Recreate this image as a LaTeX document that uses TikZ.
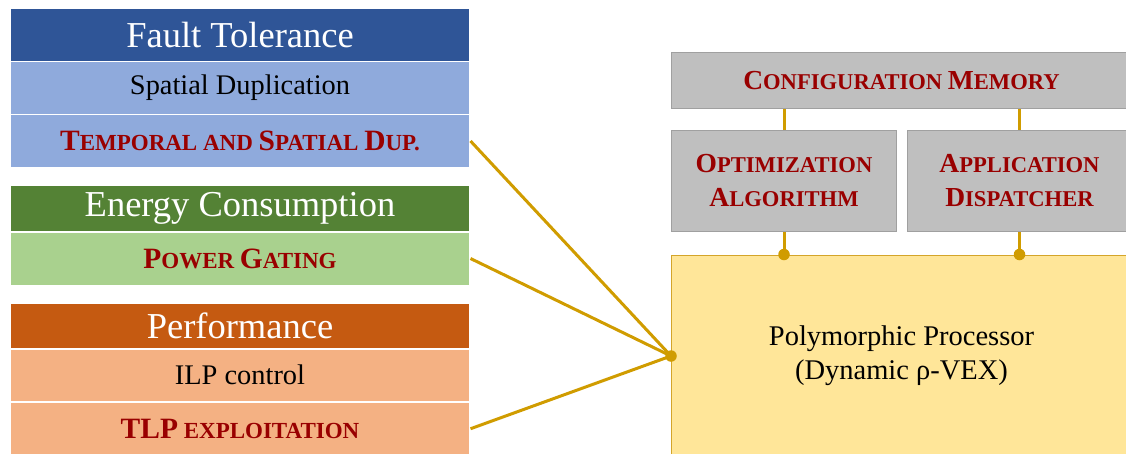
\documentclass[tikz,border=0pt]{standalone}
\usepackage{fontspec}
\setmainfont{Liberation Serif}
\definecolor{ftdark}{HTML}{2F5597}
\definecolor{ftlight}{HTML}{8FAADC}
\definecolor{ecdark}{HTML}{548235}
\definecolor{eclight}{HTML}{A9D18E}
\definecolor{pfdark}{HTML}{C55A11}
\definecolor{pflight}{HTML}{F4B183}
\definecolor{boxgray}{HTML}{BFBFBF}
\definecolor{boxedge}{HTML}{A0A0A0}
\definecolor{procfill}{HTML}{FFE699}
\definecolor{procedge}{HTML}{D4A52A}
\definecolor{wire}{HTML}{D09C00}
\definecolor{hl}{HTML}{990000}
% faked small caps: large initial capitals
\newcommand{\Cl}[1]{{\fontsize{29.5}{31}\selectfont #1}}
\newcommand{\Cr}[1]{{\fontsize{27.5}{30}\selectfont #1}}
\tikzset{
  panel/.style={anchor=north west, inner sep=0pt, draw=white, line width=1.5pt,
    minimum width=459.5pt, text centered},
  head/.style={panel, text=white, font=\fontsize{36.5}{40}\selectfont},
  item/.style={panel, text=black, font=\fontsize{28.4}{30}\selectfont},
  hot/.style={panel, text=hl, font=\bfseries\fontsize{23}{25}\selectfont},
  unit/.style={anchor=north west, inner sep=0pt, fill=boxgray, draw=boxedge, line width=1pt,
    text=hl, align=center, font=\bfseries\fontsize{22.6}{34}\selectfont},
  wire/.style={draw=wire, line width=3pt},
  joint/.style={circle, fill=wire, inner sep=0pt, minimum size=11.5pt},
}
\begin{document}
\begin{tikzpicture}[x=1pt, y=-1pt]
\useasboundingbox (0,0) rectangle (1126,453);
\clip (0,0) rectangle (1126,453);

% ---- fault tolerance group ----
\node[head, fill=ftdark, minimum height=53pt] (fth) at (9.5,7.5) {Fault Tolerance};
\node[item, fill=ftlight, minimum height=53pt] (sd) at (9.5,60.5) {Spatial Duplication};
\node[hot, fill=ftlight, minimum height=53.5pt] (tsd) at (9.5,113.5)
  {\Cl{T}EMPORAL AND \Cl{S}PATIAL \Cl{D}UP.};

% ---- energy group ----
\node[head, fill=ecdark, minimum height=46.5pt] (ech) at (9.5,184.5) {Energy Consumption};
\node[hot, fill=eclight, minimum height=53.5pt] (pg) at (9.5,231) {\Cl{P}OWER \Cl{G}ATING};

% ---- performance group ----
\node[head, fill=pfdark, minimum height=46pt] (pfh) at (9.5,302) {Performance};
\node[item, fill=pflight, minimum height=53pt] (ilp) at (9.5,348) {ILP control};
\node[hot, fill=pflight, minimum height=54pt] (tlp) at (9.5,401) {\Cl{TLP} EXPLOITATION};

% ---- processor side ----
\node[unit, minimum width=460pt, minimum height=56pt] (mem) at (671,52)
  {\Cr{C}ONFIGURATION \Cr{M}EMORY};
\node[unit, minimum width=225pt, minimum height=101.5pt] (opt) at (671,129.5)
  {\Cr{O}PTIMIZATION\\\Cr{A}LGORITHM};
\node[unit, minimum width=224pt, minimum height=101.5pt] (app) at (907,129.5)
  {\Cr{A}PPLICATION\\\Cr{D}ISPATCHER};
\node[anchor=north west, inner sep=0pt, fill=procfill, draw=procedge, line width=1pt,
  minimum width=460pt, minimum height=202pt, align=center,
  font=\fontsize{28.5}{33.7}\selectfont] (proc) at (671,254.5)
  {Polymorphic Processor\\(Dynamic ρ-VEX)};

% ---- connectors ----
\draw[wire] (mem.south -| opt.north) -- (opt.north);
\draw[wire] (mem.south -| app.north) -- (app.north);
\draw[wire] (opt.south) -- (opt.south |- proc.north) node[joint] {};
\draw[wire] (app.south) -- (app.south |- proc.north) node[joint] {};
\draw[wire] (tsd.east) -- (proc.west);
\draw[wire] (pg.east) -- (proc.west);
\draw[wire] (tlp.east) -- (proc.west);
\node[joint] (hub) at (proc.west) {};
\end{tikzpicture}
\end{document}
